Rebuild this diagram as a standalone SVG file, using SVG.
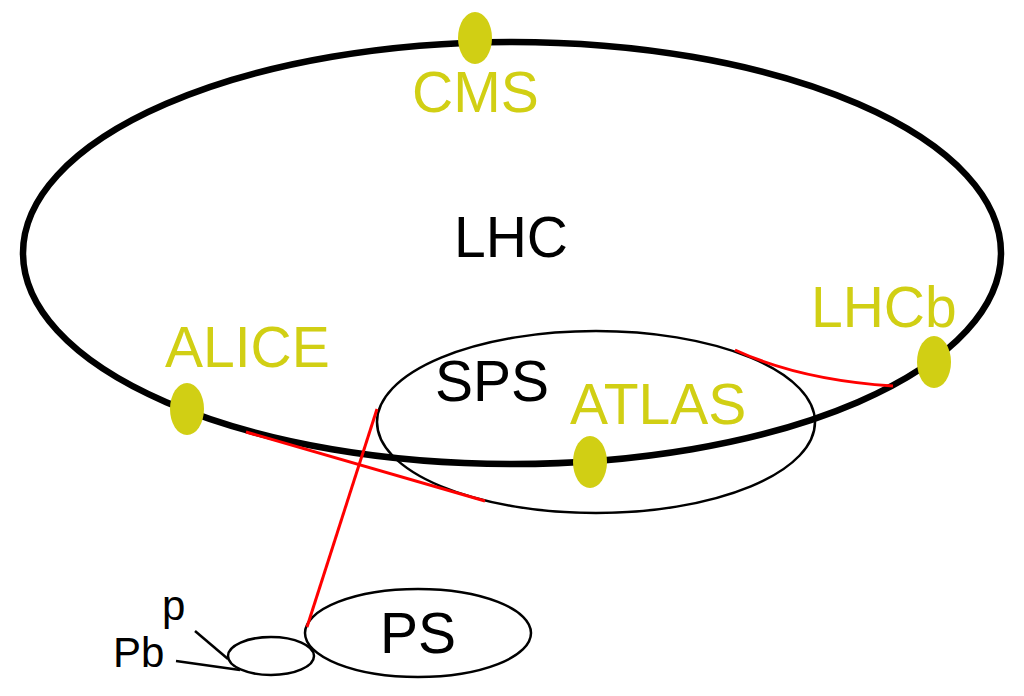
<svg xmlns="http://www.w3.org/2000/svg" width="1024" height="696" viewBox="0 0 1024 696">
<style>
.ring{fill:none;stroke:#000}
.red{fill:none;stroke:#ff0000;stroke-width:3}
.det{fill:#d1cf14}
.lab{font-family:"Liberation Sans",Arial,sans-serif;font-size:57px}
.y{fill:#d1cf14}
.k{fill:#000}
</style>
<rect width="1024" height="696" fill="#fff"/>
<g id="LHC">
<ellipse class="ring" cx="512" cy="253" rx="489" ry="211" stroke-width="6.5"/>
<text class="lab k" x="454" y="257">LHC</text>
</g>
<g id="SPS">
<ellipse class="ring" cx="596" cy="422" rx="219" ry="91" stroke-width="2.5"/>
<text class="lab k" x="435" y="401">SPS</text>
</g>
<g id="PS">
<ellipse class="ring" cx="418" cy="633" rx="113" ry="44" stroke-width="2.5"/>
<text class="lab k" x="380" y="653">PS</text>
</g>
<g id="injector">
<ellipse class="ring" cx="271" cy="656" rx="43" ry="19" stroke-width="2.5"/>
</g>
<g id="sources">
<line x1="195" y1="631" x2="228" y2="659" stroke="#000" stroke-width="2.5"/>
<line x1="176" y1="661" x2="240" y2="670" stroke="#000" stroke-width="2.5"/>
<text class="k" x="162" y="620" font-family="Liberation Sans,Arial,sans-serif" font-size="42">p</text>
<text class="k" x="113" y="667" font-family="Liberation Sans,Arial,sans-serif" font-size="42">Pb</text>
</g>
<g id="connectors">
<path class="red" d="M307,627 L377,409"/>
<path class="red" d="M246,432 L485,501"/>
<path class="red" d="M735,350 Q800,380 893,386"/>
</g>
<g id="CMS">
<ellipse class="det" cx="475" cy="38" rx="17" ry="26"/>
<text class="lab y" x="412" y="112">CMS</text>
</g>
<g id="ALICE">
<ellipse class="det" cx="187" cy="409" rx="17" ry="26"/>
<text class="lab y" x="165" y="367">ALICE</text>
</g>
<g id="ATLAS">
<ellipse class="det" cx="590" cy="462" rx="17" ry="26"/>
<text class="lab y" x="570" y="424">ATLAS</text>
</g>
<g id="LHCb">
<ellipse class="det" cx="934" cy="362" rx="17" ry="26"/>
<text class="lab y" x="811" y="327">LHCb</text>
</g>
</svg>
